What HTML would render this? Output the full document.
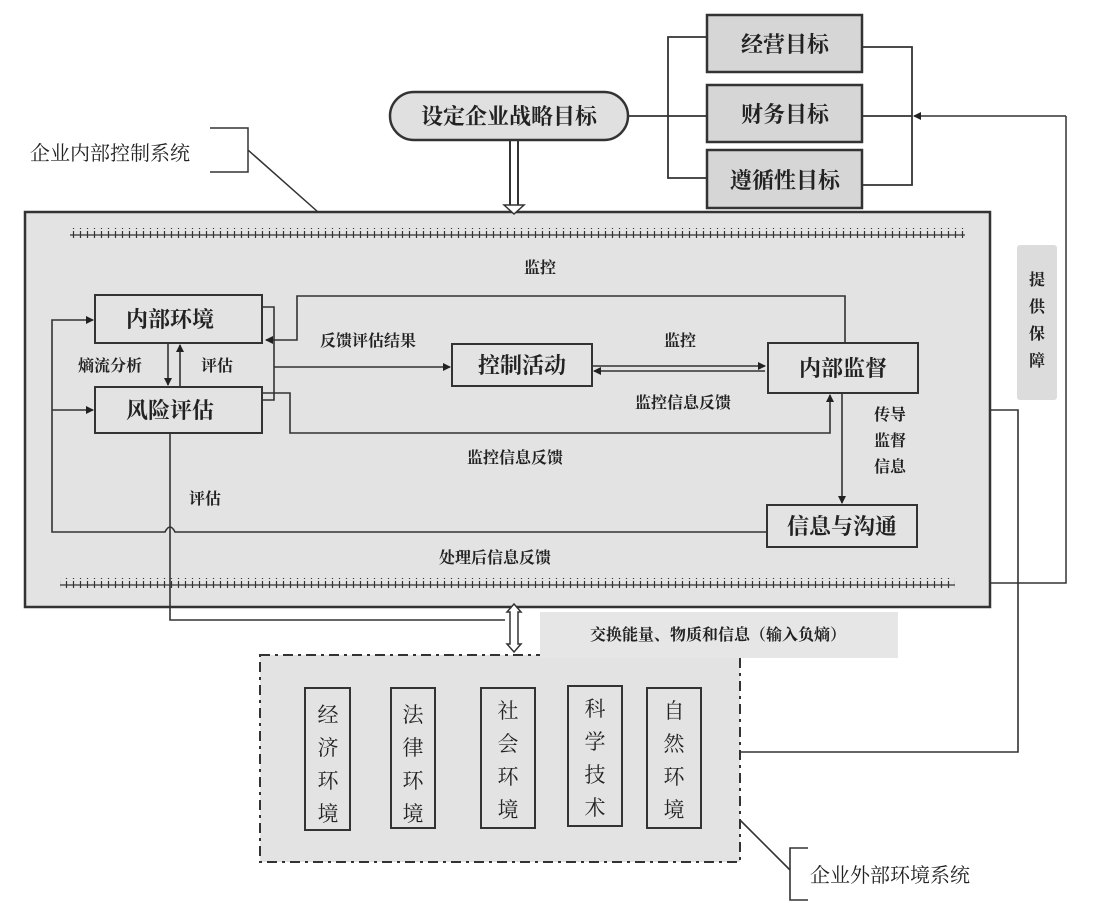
<!DOCTYPE html>
<html><head><meta charset="utf-8"><style>
body{margin:0;background:#fff;}
svg text{font-family:"Liberation Serif","Noto Serif CJK SC","Noto Sans CJK SC",serif;fill:#222;}
</style></head><body>
<svg width="1098" height="912" viewBox="0 0 1098 912" xmlns="http://www.w3.org/2000/svg">
<defs>
<marker id="a" markerWidth="8" markerHeight="8" refX="7" refY="4" orient="auto" markerUnits="userSpaceOnUse"><path d="M0,0 L8,4 L0,8 z" fill="#222"/></marker>
<pattern id="h" width="7" height="10" patternUnits="userSpaceOnUse"><path d="M0,5 H7 M3.5,1 V9" stroke="#333" stroke-width="1.2"/></pattern>
</defs>
<g stroke="#333" stroke-width="2" fill="none">
<rect x="25" y="212" width="965" height="395" fill="#e3e3e3" stroke-width="2.5"/>
<rect x="70" y="228" width="895" height="10" fill="url(#h)" stroke="none"/>
<rect x="60" y="578" width="895" height="10" fill="url(#h)" stroke="none"/>
<rect x="390" y="92" width="238" height="48" rx="24" fill="#e0e0e0" stroke-width="2.5"/>
<path d="M510,140 V205 M518,140 V205" />
<path d="M504,205 L514,214 L524,205 z" fill="#fff" stroke-width="1.5"/>
<rect x="707" y="15" width="155" height="57" fill="#d6d6d6" stroke-width="2.5"/>
<rect x="707" y="85" width="155" height="57" fill="#d6d6d6" stroke-width="2.5"/>
<rect x="707" y="150" width="155" height="58" fill="#d6d6d6" stroke-width="2.5"/>
<path d="M628,116 H707 M707,37 H668 V178 H707 M862,47 H912 V185 H862 M862,116 H912" stroke-width="1.8"/>
<path d="M1066,116 H914" marker-end="url(#a)" stroke-width="1.5"/>
<path d="M1066,116 V583 H990" stroke-width="1.5"/>
<path d="M210,128 H248 V172 H210 M248,150 L318,212" stroke-width="1.5"/>
<rect x="95" y="295" width="167" height="48" fill="#e3e3e3"/>
<rect x="95" y="387" width="167" height="46" fill="#e3e3e3"/>
<rect x="452" y="344" width="140" height="42" fill="#e3e3e3"/>
<rect x="768" y="343" width="150" height="50" fill="#e3e3e3"/>
<rect x="767" y="505" width="150" height="42" fill="#e3e3e3"/>
<g stroke-width="1.6">
<path d="M262,307 H274 V400 H262"/>
<path d="M845,343 V296 H297 V340 H266" marker-end="url(#a)"/>
<path d="M274,367 H450" marker-end="url(#a)"/>
<path d="M262,393 H290 V433 H830 V395" marker-end="url(#a)"/>
<path d="M592,366 H765" marker-end="url(#a)"/>
<path d="M765,371 H594" marker-end="url(#a)"/>
<path d="M842,393 V503" marker-end="url(#a)"/>
<path d="M168,343 V385" marker-end="url(#a)"/>
<path d="M180,387 V345" marker-end="url(#a)"/>
<path d="M767,532 H175 Q170,522 165,532 H52 V320 H93" marker-end="url(#a)"/>
<path d="M52,410 H93" marker-end="url(#a)"/>
<path d="M170,433 V620 H505"/>
<path d="M990,410 H1018 V752 H740"/>
<path d="M740,820 L790,870 M808,848 H790 V900 H808"/>
</g>
<path d="M507,612 L514,604 L521,612 H518 V644 H521 L514,652 L507,644 H510 V612 z" fill="#fff" stroke-width="1.5"/>
<rect x="260" y="655" width="480" height="207" fill="#e3e3e3" stroke-dasharray="10,5,3,5"/>
<rect x="305" y="688" width="45" height="142" fill="#e3e3e3"/>
<rect x="391" y="688" width="44" height="140" fill="#e3e3e3"/>
<rect x="481" y="688" width="54" height="140" fill="#e3e3e3"/>
<rect x="568" y="686" width="54" height="140" fill="#e3e3e3"/>
<rect x="647" y="688" width="54" height="140" fill="#e3e3e3"/>
</g>
<rect x="540" y="612" width="358" height="46" fill="#e6e6e6"/>
<rect x="1017" y="245" width="40" height="155" fill="#dcdcdc" rx="3"/>
<g font-size="22" text-anchor="middle" font-weight="bold">
<text x="509" y="124">设定企业战略目标</text>
<text x="785" y="52">经营目标</text>
<text x="785" y="122">财务目标</text>
<text x="785" y="188">遵循性目标</text>
<text x="170" y="327">内部环境</text>
<text x="170" y="418">风险评估</text>
<text x="522" y="373">控制活动</text>
<text x="843" y="376">内部监督</text>
<text x="842" y="534">信息与沟通</text>
</g>
<g font-size="20" text-anchor="start">
<text x="30" y="160">企业内部控制系统</text>
<text x="810" y="882">企业外部环境系统</text>
</g>
<g font-size="16" font-weight="bold" text-anchor="middle">
<text x="540" y="273">监控</text>
<text x="368" y="346">反馈评估结果</text>
<text x="680" y="346">监控</text>
<text x="110" y="371">熵流分析</text>
<text x="217" y="371">评估</text>
<text x="683" y="408">监控信息反馈</text>
<text x="515" y="463">监控信息反馈</text>
<text x="205" y="504">评估</text>
<text x="495" y="563">处理后信息反馈</text>
<text x="718" y="640">交换能量、物质和信息（输入负熵）</text>
<text x="890" y="420">传导</text>
<text x="890" y="446">监督</text>
<text x="890" y="472">信息</text>
<text x="1037" y="285">提</text>
<text x="1037" y="312">供</text>
<text x="1037" y="339">保</text>
<text x="1037" y="366">障</text>
</g>
<g font-size="21" text-anchor="middle">
<text x="328" y="722">经</text><text x="328" y="755">济</text><text x="328" y="788">环</text><text x="328" y="821">境</text>
<text x="413" y="722">法</text><text x="413" y="755">律</text><text x="413" y="788">环</text><text x="413" y="821">境</text>
<text x="508" y="718">社</text><text x="508" y="751">会</text><text x="508" y="784">环</text><text x="508" y="817">境</text>
<text x="595" y="716">科</text><text x="595" y="749">学</text><text x="595" y="782">技</text><text x="595" y="815">术</text>
<text x="674" y="718">自</text><text x="674" y="751">然</text><text x="674" y="784">环</text><text x="674" y="817">境</text>
</g>
</svg>
</body></html>
